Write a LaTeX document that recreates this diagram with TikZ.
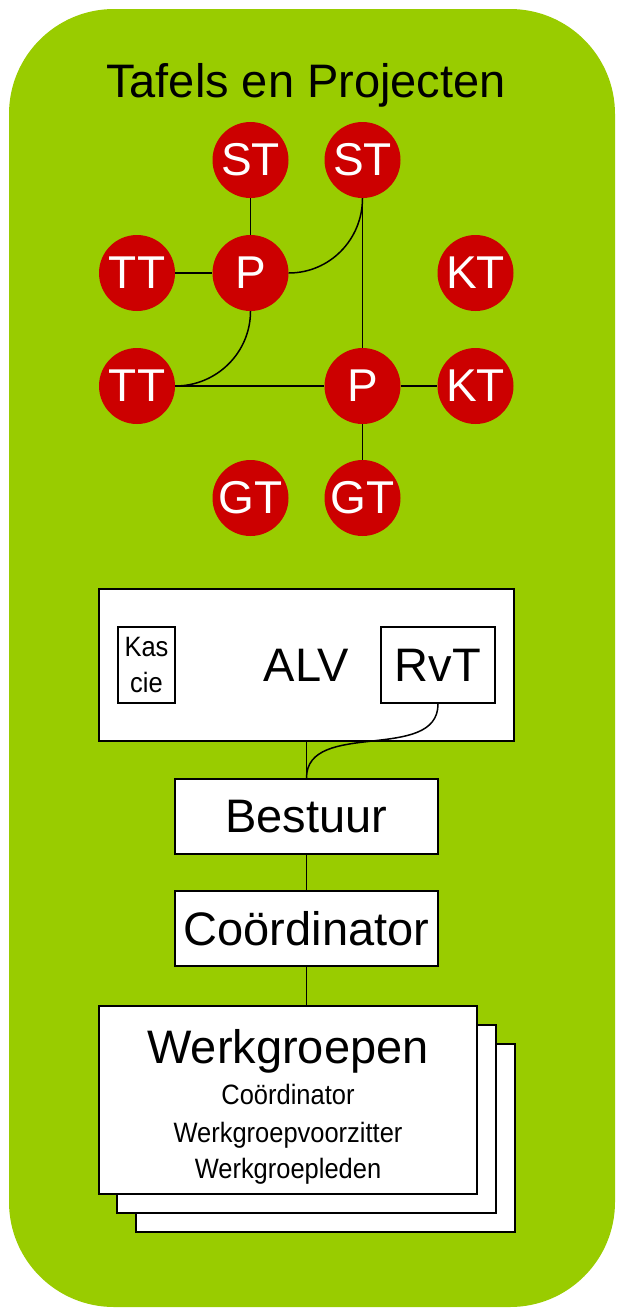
\documentclass[tikz,border=0pt]{standalone}
\usepackage{fontspec}
\setmainfont{Liberation Sans}
\newfontfamily\smalfont[FakeStretch=0.91]{Liberation Sans}
\definecolor{tafelgreen}{HTML}{99CC00}
\definecolor{tafelred}{HTML}{CC0000}

\begin{document}
\begin{tikzpicture}[x=1pt, y=-1pt,
    tafel/.style={circle, fill=tafelred, text=white, minimum size=76, inner sep=0, font=\fontsize{46}{48}\selectfont},
    blok/.style={draw, line width=2, fill=white, inner sep=0},
    groot/.style={font=\fontsize{47}{50}\selectfont},
    klein/.style={font=\smalfont\fontsize{28}{36}\selectfont},
    lijn/.style={line width=1.5}]
        \useasboundingbox (0, 0) rectangle (616, 1312);
        \fill [tafelgreen, rounded corners=105] (9, 9) rectangle (615, 1307);
        \node [groot, anchor=base] (titel) at (306, 97) {Tafels en Projecten};

        \node [tafel] (st1) at (250.5, 160) {ST};
        \node [tafel] (st2) at (362.5, 160) {ST};
        \node [tafel] (tt1) at (137, 273) {TT};
        \node [tafel] (p1) at (250.5, 273) {P};
        \node [tafel] (kt1) at (475.5, 273) {KT};
        \node [tafel] (tt2) at (137, 386) {TT};
        \node [tafel] (p2) at (362.5, 386) {P};
        \node [tafel] (kt2) at (475.5, 386) {KT};
        \node [tafel] (gt1) at (250.5, 498) {GT};
        \node [tafel] (gt2) at (362.5, 498) {GT};

        \draw [lijn] (st1) -- (p1);
        \draw [lijn] (tt1) -- (p1);
        \draw [lijn] (p1.east) to [out=0, in=-90] (st2.south);
        \draw [lijn] (st2) -- (p2);
        \draw [lijn] (p1.south) to [out=-90, in=0] (tt2.east);
        \draw [lijn] (tt2) -- (p2);
        \draw [lijn] (p2) -- (kt2);
        \draw [lijn] (p2) -- (gt2);

        \node [blok, groot, minimum width=415, minimum height=152] (alv) at (306.5, 665) {ALV};
        \node [blok, klein, align=center, minimum width=57, minimum height=76] (kascie) at (146.5, 665) {Kas\\cie};
        \node [blok, groot, minimum width=114, minimum height=76] (rvt) at (438, 665) {RvT};
        \node [blok, groot, minimum width=263, minimum height=75] (bestuur) at (306.5, 816.5) {Bestuur};
        \node [blok, groot, minimum width=263, minimum height=75] (coord) at (306.5, 928.5) {Coördinator};

        \draw [lijn] (alv) -- (bestuur);
        \draw [lijn] (rvt.south) to [out=-90, in=90] (bestuur.north);
        \draw [lijn] (bestuur) -- (coord);

        \node [blok, minimum width=379, minimum height=188] (wgc) at (325.5, 1138) {};
        \node [blok, minimum width=379, minimum height=188] (wgb) at (306.5, 1119) {};
        \node [blok, minimum width=378, minimum height=188] (wga) at (288, 1100) {};
        \draw [lijn] (coord) -- (coord |- wga.north);

        \node [groot, anchor=base] (wgtitel) at (288, 1063) {Werkgroepen};
        \node [klein, anchor=base] (wgcoord) at (288, 1104) {Coördinator};
        \node [klein, anchor=base] (wgvz) at (288, 1142) {Werkgroepvoorzitter};
        \node [klein, anchor=base] (wgleden) at (288, 1178) {Werkgroepleden};
    \end{tikzpicture}
\end{document}
